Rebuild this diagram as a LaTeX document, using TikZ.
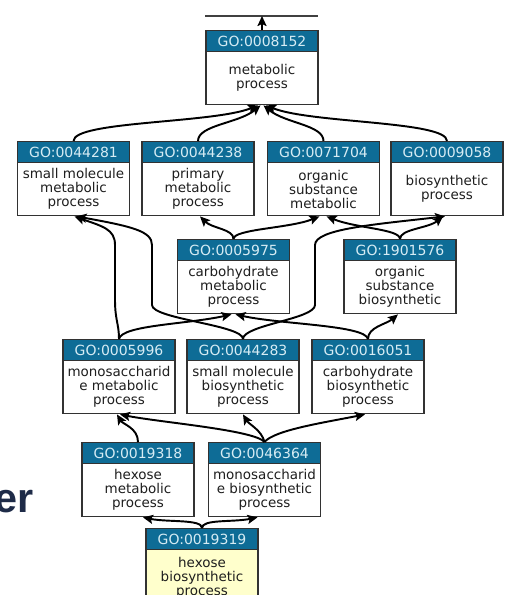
\documentclass[tikz,border=0pt]{standalone}
\usepackage{fontspec}
\setmainfont{DejaVu Sans}
\newfontfamily\erfont{Liberation Sans}
\usetikzlibrary{arrows.meta,shapes.multipart,calc}
\definecolor{hdrblue}{RGB}{14,108,150}
\definecolor{hdrtext}{RGB}{214,236,244}
\definecolor{boxline}{RGB}{50,50,50}
\definecolor{termyellow}{RGB}{255,255,204}
\definecolor{navy}{RGB}{30,43,72}
\definecolor{bodytext}{RGB}{30,30,30}
\newcommand{\hdr}[1]{\parbox[c][15pt][c]{84pt}{\centering\fontsize{10.5}{12}\selectfont\color{hdrtext}#1}}
\newcommand{\bdy}[1]{\parbox[c][39pt][c]{84pt}{\centering\fontsize{10.1}{10.5}\selectfont\color{bodytext}#1}}
\newcommand{\bdyY}[1]{\parbox[c][41pt][c]{84pt}{\centering\fontsize{10.1}{10.5}\selectfont\color{bodytext}#1}}
\tikzset{
  goterm/.style={rectangle split, rectangle split parts=2, draw=boxline, line width=0.85pt,
    inner sep=0pt, anchor=north, rectangle split part fill={hdrblue,#1}},
  goterm/.default=white,
  isa/.style={draw=black, line width=1.45pt, -{Stealth[length=7.5pt,width=6.8pt,inset=1.5pt]}},
}
\begin{document}
\begin{tikzpicture}[x=0.75pt,y=-0.75pt]
\useasboundingbox (0,0) rectangle (512,595);
\clip (0,0) rectangle (512,595);
\fill[white] (0,0) rectangle (512,595);

% left fragment of a title
\node[anchor=base east, inner sep=0pt, text=navy, font=\erfont\bfseries\fontsize{31}{31}\selectfont] (er) at (34,512) {er};

% terms
\node[goterm] (n8152) at (262,30) {\hdr{GO:0008152}\nodepart{two}\bdy{metabolic\\process}};

\node[goterm] (n4281) at (73.5,141) {\hdr{GO:0044281}\nodepart{two}\bdy{small molecule\\metabolic\\process}};
\node[goterm] (n4238) at (198,141) {\hdr{GO:0044238}\nodepart{two}\bdy{primary\\metabolic\\process}};
\node[goterm] (n1704) at (323.5,141) {\hdr{GO:0071704}\nodepart{two}\bdy{organic\\substance\\metabolic}};
\node[goterm] (n9058) at (447,141) {\hdr{GO:0009058}\nodepart{two}\bdy{biosynthetic\\process}};

\node[goterm] (n5975) at (233.5,239) {\hdr{GO:0005975}\nodepart{two}\bdy{carbohydrate\\metabolic\\process}};
\node[goterm] (n1576) at (400,239) {\hdr{GO:1901576}\nodepart{two}\bdy{organic\\substance\\biosynthetic}};

\node[goterm] (n5996) at (119,339) {\hdr{GO:0005996}\nodepart{two}\bdy{monosaccharid\\e metabolic\\process}};
\node[goterm] (n4283) at (243,339) {\hdr{GO:0044283}\nodepart{two}\bdy{small molecule\\biosynthetic\\process}};
\node[goterm] (n6051) at (368,339) {\hdr{GO:0016051}\nodepart{two}\bdy{carbohydrate\\biosynthetic\\process}};

\node[goterm] (n9318) at (138,442) {\hdr{GO:0019318}\nodepart{two}\bdy{hexose\\metabolic\\process}};
\node[goterm] (n6364) at (264.5,442) {\hdr{GO:0046364}\nodepart{two}\bdy{monosaccharid\\e biosynthetic\\process}};

\node[goterm=termyellow] (n9319) at (202,528) {\hdr{GO:0019319}\nodepart{two}\bdyY{hexose\\biosynthetic\\process}};

% top: edge of a parent cut by the page
\coordinate (pl) at (205,16);
\coordinate (pr) at (318,16);
\coordinate (up) at (262,16);
\draw[draw=black!75, line width=0.8pt] (pl) -- (pr);
\draw[isa] (n8152.north) -- (up);

% row 2 -> metabolic process
\draw[isa] (n4281.north) .. controls +(0,-20) and +(-45,18) .. ($(n8152.south)+(-4,0)$);
\draw[isa] (n4238.north) .. controls +(0,-16) and +(-22,18) .. ($(n8152.south)+(-1.5,0)$);
\draw[isa] (n1704.north) .. controls +(0,-16) and +(22,18) .. ($(n8152.south)+(1.5,0)$);
\draw[isa] (n9058.north) .. controls +(0,-20) and +(45,18) .. ($(n8152.south)+(4,0)$);

% row 3 -> row 2
\draw[isa] (n5975.north) .. controls +(0,-10) and +(12,12) .. ($(n4238.south)+(2,0)$);
\draw[isa] (n5975.north) .. controls +(0,-10) and +(-30,12) .. ($(n1704.south)+(-4,0)$);
\draw[isa] (n1576.north) .. controls +(0,-10) and +(30,12) .. ($(n1704.south)+(3,0)$);
\draw[isa] (n1576.north) .. controls +(0,-10) and +(-15,12) .. ($(n9058.south)+(-4,0)$);

% row 4 -> row 2 (long)
\draw[isa] (n5996.north) .. controls +(0,-15) and +(0,20) .. (115,300) -- (115,245)
  .. controls +(0,-16) and +(28,10) .. ($(n4281.south)+(1,0)$);
\draw[isa] (n4283.north) .. controls +(0,-14) and +(0,14) .. (152,305) -- (152,245)
  .. controls +(0,-14) and +(55,10) .. ($(n4281.south)+(3,0)$);
\draw[isa] (n4283.north) .. controls +(0,-14) and +(0,14) .. (315,305) -- (315,245)
  .. controls +(0,-16) and +(-70,8) .. ($(n9058.south)+(-2,0)$);

% row 4 -> row 3
\draw[isa] (n5996.north) .. controls +(3,-14) and +(-45,10) .. ($(n5975.south)+(-2,0)$);
\draw[isa] (n6051.north) .. controls +(-3,-14) and +(45,10) .. ($(n5975.south)+(2,0)$);
\draw[isa] (n6051.north) .. controls +(0,-12) and +(-12,10) .. ($(n1576.south)+(-2,0)$);

% row 5 -> row 4
\draw[isa] (n9318.north) .. controls +(0,-14) and +(6,10) .. ($(n5996.south)+(-2,0)$);
\draw[isa] (n6364.north) .. controls +(-10,-12) and +(40,8) .. ($(n5996.south)+(1,0)$);
\draw[isa] (n6364.north) .. controls +(-3,-12) and +(6,10) .. (n4283.south);
\draw[isa] (n6364.north) .. controls +(10,-12) and +(-40,8) .. ($(n6051.south)+(-3,0)$);

% row 6 -> row 5
\draw[isa] (n9319.north) .. controls +(0,-9) and +(25,5) .. ($(n9318.south)+(5,0)$);
\draw[isa] (n9319.north) .. controls +(0,-9) and +(-25,5) .. ($(n6364.south)+(-7,0)$);
\end{tikzpicture}
\end{document}
